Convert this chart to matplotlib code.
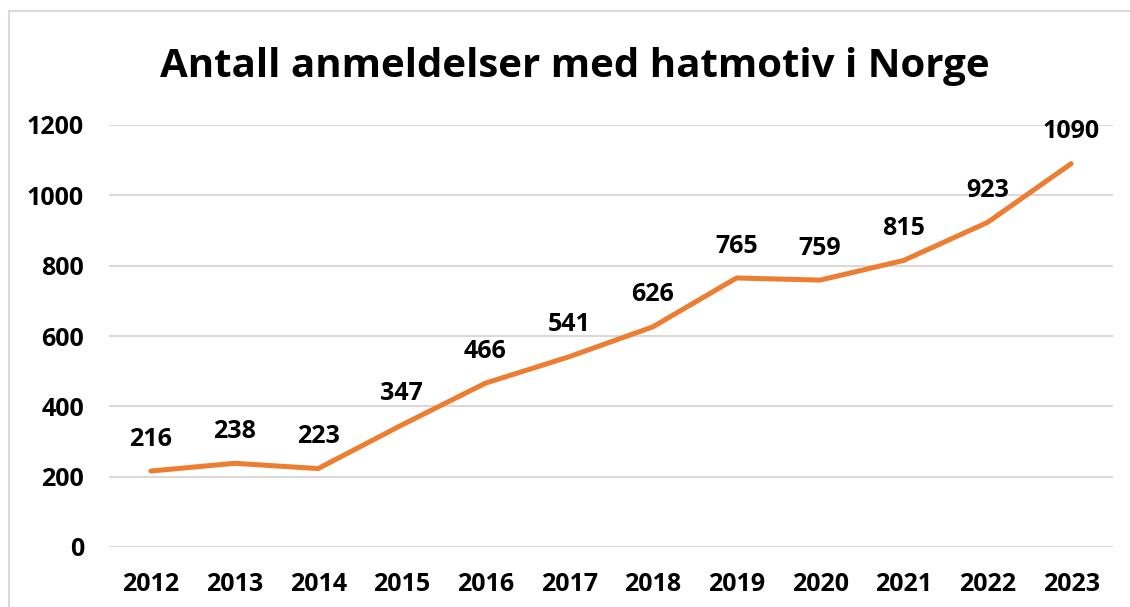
import matplotlib
matplotlib.use("Agg")
import matplotlib.pyplot as plt
from matplotlib.patches import Rectangle

years = ["2012", "2013", "2014", "2015", "2016", "2017", "2018", "2019", "2020", "2021", "2022", "2023"]
values = [216, 238, 223, 347, 466, 541, 626, 765, 759, 815, 923, 1090]
yticks = [0, 200, 400, 600, 800, 1000, 1200]
title = "Antall anmeldelser med hatmotiv i Norge"

plt.rcParams['font.family'] = ['Open Sans', 'DejaVu Sans']

W, H = 1130, 607
fig = plt.figure(figsize=(W / 100, H / 100), dpi=100)
fig.patch.set_facecolor("white")

# outer chart border
fig.patches.append(Rectangle((9 / W, -0.05), 1.2, (H - 11) / H + 0.05, transform=fig.transFigure,
                             fill=False, edgecolor="#D9D9D9", linewidth=1.5))

ax = fig.add_axes([109 / W, (H - 547) / H, (1113 - 109) / W, (547 - 125) / H])
x = list(range(len(years)))
ax.plot(x, values, color="#ED7D31", linewidth=3.6, solid_capstyle="round", solid_joinstyle="round", zorder=3)
for xi, v in zip(x, values):
    ax.annotate(str(v), (xi, v), xytext=(0, 14), textcoords="offset points", ha="center", va="bottom",
                fontsize=18, fontweight="bold", color="black")

ax.set_xlim(-0.5, len(years) - 0.5)
ax.set_ylim(0, 1200)
ax.set_yticks(yticks)
ax.set_yticklabels([str(t) for t in yticks], fontsize=18, fontweight="bold")
ax.set_xticks(x)
ax.set_xticklabels(years, fontsize=18, fontweight="bold")
ax.tick_params(axis="both", length=0)
ax.tick_params(axis="y", pad=18)
ax.tick_params(axis="x", pad=18)
ax.grid(axis="y", color="#D9D9D9", linewidth=1.5)
ax.set_axisbelow(True)
for s in ax.spines.values():
    s.set_visible(False)

fig.text(575 / W, 1 - 66 / H, title, ha="center", va="center", fontsize=29, fontweight="bold")

fig.savefig("out.png", dpi=100, facecolor="white")
